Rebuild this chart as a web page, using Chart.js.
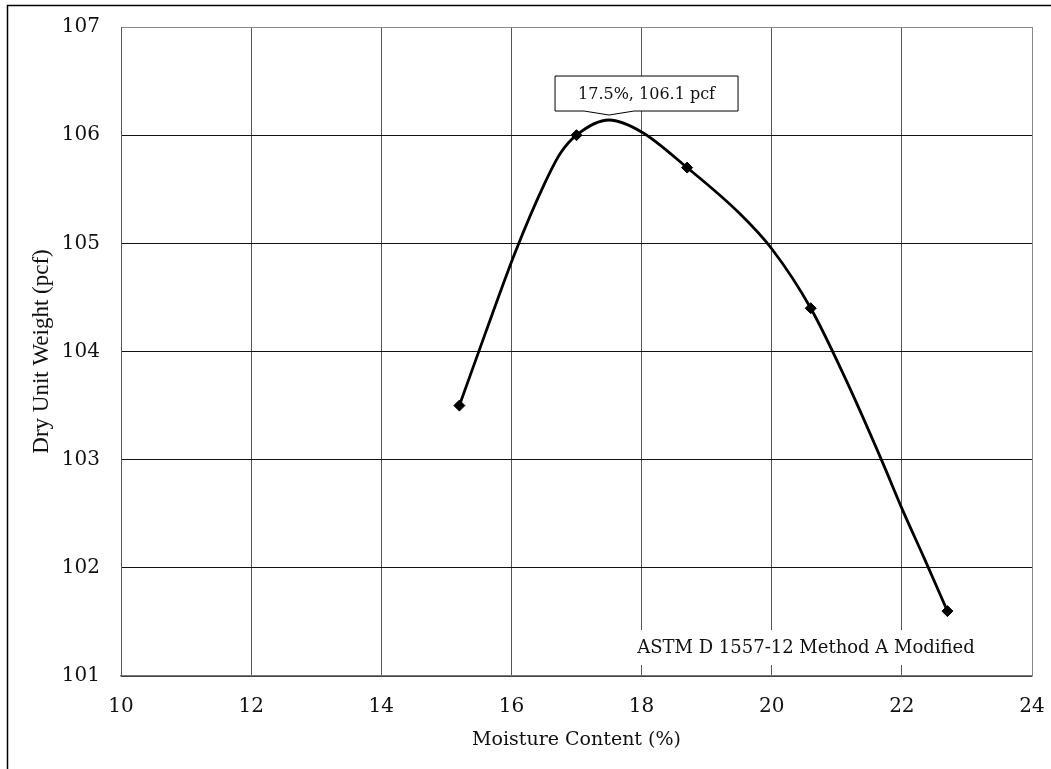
<!DOCTYPE html>
<html>
<head>
<meta charset="utf-8">
<script src="https://cdn.jsdelivr.net/npm/chart.js@4/dist/chart.umd.min.js"></script>
<style>
html,body{margin:0;padding:0;background:#fff;}
#wrap{width:1051px;height:769px;position:relative;}
</style>
</head>
<body>
<div id="wrap"><canvas id="c" width="1051" height="769"></canvas></div>
<script>
// Measured test points
const moisture = [15.2, 17.0, 18.7, 20.6, 22.7];
const dryUnitWeight = [103.5, 106.0, 105.7, 104.4, 101.6];
// Fitted compaction curve
const curveX = [15.2, 15.6, 16.06, 16.5, 16.75, 17.0, 17.5, 18.0, 18.7, 19.5, 20.0, 20.6, 21.14, 21.7, 22.0, 22.35, 22.7];
const curveY = [103.5, 104.17, 104.92, 105.54, 105.83, 106.0, 106.14, 106.03, 105.7, 105.28, 104.95, 104.4, 103.74, 102.98, 102.55, 102.08, 101.6];
// Axis ranges / ticks
const xTicks = [10, 12, 14, 16, 18, 20, 22, 24];
const yTicks = [101, 102, 103, 104, 105, 106, 107];
const xTitle = 'Moisture Content (%)';
const yTitle = 'Dry Unit Weight (pcf)';
const peakPoint = {x: 17.5, y: 106.14};
const peakLabel = '17.5%, 106.1 pcf';
const methodLabel = 'ASTM D 1557-12 Method A Modified';

const serif = '"DejaVu Serif", "Liberation Serif", serif';

const annot = {
  id: 'annot',
  beforeDraw(chart) {
    const ctx = chart.ctx;
    ctx.save();
    ctx.fillStyle = '#fff';
    ctx.fillRect(0, 0, chart.width, chart.height);
    ctx.strokeStyle = '#000';
    ctx.lineWidth = 1.5;
    ctx.beginPath();
    ctx.moveTo(7.5, chart.height);
    ctx.lineTo(7.5, 5.5);
    ctx.lineTo(chart.width, 5.5);
    ctx.stroke();
    ctx.restore();
  },
  afterDatasetsDraw(chart) {
    const ctx = chart.ctx;
    const xs = chart.scales.x, ys = chart.scales.y;
    const ca = chart.chartArea;
    ctx.save();
    // method label with white backdrop
    ctx.font = '18px ' + serif;
    const mw = ctx.measureText(methodLabel).width;
    const mcx = ca.right - 226, mcy = ca.bottom - 29;
    ctx.fillStyle = '#fff';
    ctx.fillRect(mcx - mw / 2 - 4, mcy - 17, mw + 8, 35);
    ctx.fillStyle = '#111';
    ctx.textAlign = 'center';
    ctx.textBaseline = 'middle';
    ctx.fillText(methodLabel, mcx, mcy + 1);
    // peak callout
    const px = xs.getPixelForValue(peakPoint.x);
    const py = ys.getPixelForValue(peakPoint.y);
    const tipY = py - 5;
    const bx0 = px - 54, bx1 = px + 129, by1 = tipY - 4, by0 = by1 - 35;
    ctx.beginPath();
    ctx.moveTo(bx0, by0);
    ctx.lineTo(bx1, by0);
    ctx.lineTo(bx1, by1);
    ctx.lineTo(px + 25, by1);
    ctx.lineTo(px, tipY);
    ctx.lineTo(px - 25, by1);
    ctx.lineTo(bx0, by1);
    ctx.closePath();
    ctx.fillStyle = '#fff';
    ctx.fill();
    ctx.strokeStyle = '#000';
    ctx.lineWidth = 1;
    ctx.stroke();
    ctx.font = '16px ' + serif;
    ctx.fillStyle = '#111';
    ctx.fillText(peakLabel, (bx0 + bx1) / 2, (by0 + by1) / 2 + 1);
    ctx.restore();
  }
};

new Chart(document.getElementById('c'), {
  type: 'scatter',
  data: {
    datasets: [
      {
        label: 'curve',
        data: curveX.map((x, i) => ({x, y: curveY[i]})),
        showLine: true,
        borderColor: '#000',
        borderWidth: 2.8,
        cubicInterpolationMode: 'monotone',
        pointRadius: 0,
        fill: false,
        order: 2
      },
      {
        label: 'points',
        data: moisture.map((x, i) => ({x, y: dryUnitWeight[i]})),
        showLine: false,
        pointStyle: 'rectRot',
        pointRadius: 5.5,
        backgroundColor: '#000',
        borderColor: '#000',
        borderWidth: 1,
        order: 1
      }
    ]
  },
  options: {
    responsive: false,
    animation: false,
    events: [],
    layout: {padding: {left: 0, top: 27, right: 19, bottom: 0}},
    plugins: {legend: {display: false}, tooltip: {enabled: false}},
    scales: {
      x: {
        type: 'linear',
        min: 10, max: 24,
        afterBuildTicks: s => { s.ticks = xTicks.map(v => ({value: v})); },
        afterFit: s => { s.height = 93; s.paddingLeft = 0; s.paddingRight = 0; },
        ticks: {color: '#111', font: {family: serif, size: 20}, padding: 19},
        grid: {color: (c) => (c.tick && c.tick.value === 24) ? '#888' : '#555', lineWidth: 1, drawTicks: false},
        border: {color: '#777', width: 1.5},
        title: {display: true, text: xTitle, color: '#111', font: {family: serif, size: 19}, padding: {top: 0, bottom: 18}}
      },
      y: {
        type: 'linear',
        min: 101, max: 107,
        afterBuildTicks: s => { s.ticks = yTicks.map(v => ({value: v})); },
        afterFit: s => { s.width = 121; s.paddingTop = 0; s.paddingBottom = 0; },
        ticks: {color: '#111', font: {family: serif, size: 20}, padding: 21},
        grid: {color: (c) => (c.tick && c.tick.value === 107) ? '#888' : '#111', lineWidth: 1, drawTicks: false},
        border: {color: '#555', width: 1},
        title: {display: true, text: yTitle, color: '#111', font: {family: '"Liberation Serif", serif', size: 23}, padding: {top: 28, bottom: 0}}
      }
    }
  },
  plugins: [annot]
});
</script>
</body>
</html>
